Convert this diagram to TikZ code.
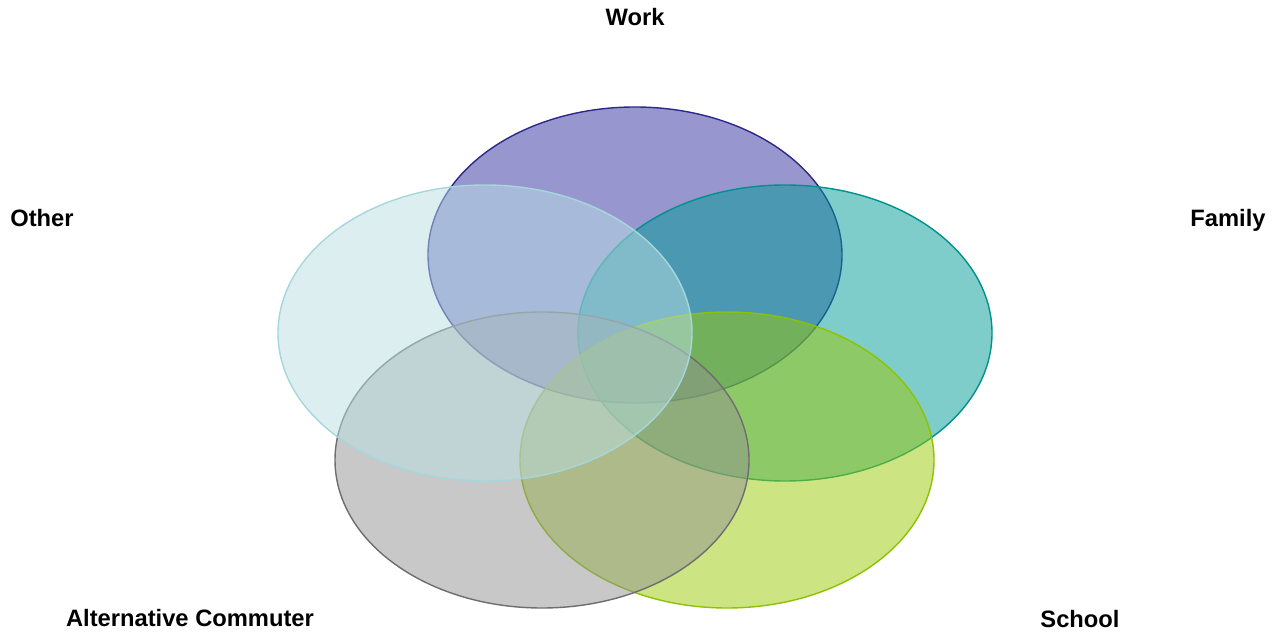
\documentclass[tikz,border=0pt]{standalone}
\usepackage{fontspec}
\setmainfont{Liberation Sans}
\usepackage{tikz}

\definecolor{workfill}{RGB}{50,45,160}
\definecolor{workline}{RGB}{45,40,140}
\definecolor{familyfill}{RGB}{0,155,150}
\definecolor{familyline}{RGB}{0,145,140}
\definecolor{schoolfill}{RGB}{155,201,5}
\definecolor{schoolline}{RGB}{140,195,0}
\definecolor{altfill}{RGB}{145,145,145}
\definecolor{altline}{RGB}{110,110,110}
\definecolor{otherfill}{RGB}{185,222,226}
\definecolor{otherline}{RGB}{165,215,220}

\tikzset{
  setlabel/.style={font=\fontsize{13.5}{16}\selectfont\bfseries, text=black},
  setshape/.style={fill opacity=0.5, draw opacity=1, line width=0.8pt}
}

\begin{document}
\begin{tikzpicture}[x=0.02cm, y=-0.02cm]
		
		\useasboundingbox (0,0) rectangle (1281,634);
		
		% Sets
		\draw[setshape, fill=workfill, draw=workline] (635,255) ellipse (207 and 148);
		\draw[setshape, fill=familyfill, draw=familyline] (785,333) ellipse (207 and 148);
		\draw[setshape, fill=schoolfill, draw=schoolline] (727,460) ellipse (207 and 148);
		\draw[setshape, fill=altfill, draw=altline] (542,460) ellipse (207 and 148);
		\draw[setshape, fill=otherfill, draw=otherline] (485,333) ellipse (207 and 148);
		
		% Labels
		\node[setlabel] (work) at (635,17) {Work};
		\node[setlabel] (family) at (1228,220) {Family};
		\node[setlabel] (school) at (1080,619) {School};
		\node[setlabel] (alt) at (190,618) {Alternative Commuter};
		\node[setlabel] (other) at (42,218) {Other};
		
	\end{tikzpicture}
\end{document}
